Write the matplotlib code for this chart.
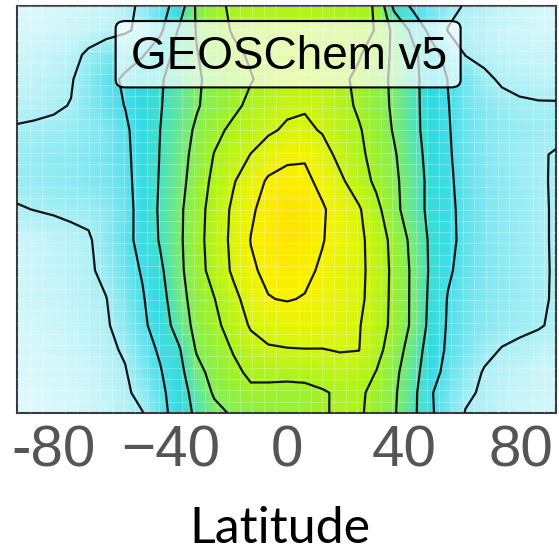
import matplotlib
matplotlib.use("Agg")
import matplotlib.pyplot as plt
from matplotlib.colors import LinearSegmentedColormap
from matplotlib.patches import FancyBboxPatch

# latitude of the grid columns (deg) and relative height of the rows (0 = bottom, 1 = top)
lat = [-92.5, -86.5, -80, -74, -68, -62, -55.5, -49.5, -43.5, -37, -31, -25, -18.5, -12.5, -6.5, 0,
       6, 12, 18, 24.5, 30.5, 36.5, 43, 49, 55, 61, 67.5, 73.5, 79.5, 86, 92]
height = [0.0, 0.05, 0.10, 0.155, 0.215, 0.28, 0.35, 0.425, 0.50, 0.57, 0.635, 0.695, 0.755, 0.82, 0.88, 0.94, 1.0]

# field values, bottom row first
field = [
    [0.35, 0.38, 0.42, 0.5, 0.58, 0.7, 0.85, 0.98, 1.68, 2.45, 3.2, 3.77, 4.1, 4.26, 4.42, 4.58, 4.74, 4.9, 5.15, 5.12, 4.7, 4.1, 3.25, 2.13, 1.5, 0.97, 0.85, 0.72, 0.62, 0.55, 0.5],
    [0.35, 0.38, 0.42, 0.5, 0.6, 0.72, 0.88, 1.22, 1.78, 2.52, 3.4, 4.1, 4.4, 4.85, 4.8, 4.7, 4.72, 4.9, 5.15, 5.15, 4.76, 4.14, 3.3, 2.08, 1.58, 1.12, 0.9, 0.78, 0.68, 0.6, 0.55],
    [0.4, 0.43, 0.48, 0.55, 0.65, 0.78, 0.95, 1.42, 1.92, 2.71, 3.7, 4.32, 4.81, 5.15, 5.2, 5.25, 5.3, 5.45, 5.6, 5.45, 4.97, 4.24, 3.4, 2.38, 1.71, 1.29, 0.95, 0.82, 0.72, 0.64, 0.58],
    [0.45, 0.5, 0.55, 0.62, 0.72, 0.85, 1.08, 1.58, 2.13, 2.91, 4.08, 4.56, 5.05, 5.6, 5.9, 5.95, 5.97, 5.97, 6.05, 6.02, 5.33, 4.48, 3.56, 2.56, 1.85, 1.5, 1.15, 0.97, 0.9, 0.8, 0.72],
    [0.5, 0.55, 0.62, 0.7, 0.8, 0.92, 1.31, 1.81, 2.46, 3.42, 4.3, 4.76, 5.41, 6.1, 6.35, 6.5, 6.55, 6.5, 6.35, 6.06, 5.48, 4.75, 3.81, 2.75, 1.9, 1.55, 1.35, 1.2, 1.1, 1.04, 0.92],
    [0.55, 0.6, 0.67, 0.75, 0.85, 0.98, 1.45, 1.92, 2.63, 3.64, 4.42, 4.97, 5.74, 6.39, 6.97, 7.05, 6.95, 6.75, 6.5, 6.2, 5.59, 4.75, 3.82, 2.81, 1.95, 1.6, 1.4, 1.25, 1.13, 1.06, 0.96],
    [0.6, 0.65, 0.72, 0.8, 0.9, 1.17, 1.61, 2.08, 2.83, 3.78, 4.61, 5.36, 6.14, 6.9, 7.15, 7.3, 7.2, 6.87, 6.54, 6.2, 5.68, 4.75, 3.83, 2.88, 2.12, 1.7, 1.45, 1.28, 1.15, 1.07, 0.96],
    [0.62, 0.68, 0.75, 0.83, 0.93, 1.29, 1.73, 2.3, 3.08, 3.83, 4.67, 5.43, 6.22, 7.02, 7.35, 7.5, 7.4, 7.05, 6.63, 6.21, 5.6, 4.68, 3.74, 2.86, 2.24, 1.75, 1.48, 1.3, 1.16, 1.06, 0.96],
    [0.96, 1.01, 1.06, 1.12, 1.15, 1.3, 1.65, 2.38, 3.12, 3.81, 4.62, 5.39, 6.16, 6.88, 7.3, 7.5, 7.45, 7.1, 6.63, 6.11, 5.28, 4.28, 3.46, 2.77, 2.2, 1.75, 1.48, 1.3, 1.16, 1.06, 0.96],
    [1.15, 1.2, 1.25, 1.3, 1.38, 1.5, 1.75, 2.38, 3.07, 3.69, 4.45, 5.23, 5.92, 6.53, 7.12, 7.3, 7.2, 6.77, 6.19, 5.48, 4.8, 4.2, 3.48, 2.76, 2.14, 1.72, 1.45, 1.28, 1.15, 1.06, 0.95],
    [1.15, 1.2, 1.25, 1.3, 1.38, 1.5, 1.8, 2.41, 3.03, 3.63, 4.3, 5.03, 5.53, 6.02, 6.5, 6.8, 6.9, 6.4, 5.74, 5.2, 4.68, 4.1, 3.38, 2.7, 2.1, 1.65, 1.4, 1.24, 1.12, 1.04, 0.97],
    [1.05, 1.08, 1.12, 1.18, 1.28, 1.45, 1.85, 2.44, 3.0, 3.56, 4.14, 4.75, 5.2, 5.53, 5.85, 6.15, 6.2, 5.92, 5.49, 5.09, 4.55, 3.93, 3.26, 2.65, 2.06, 1.65, 1.4, 1.25, 1.17, 1.12, 1.1],
    [0.85, 0.88, 0.93, 1.02, 1.36, 1.68, 2.02, 2.47, 2.95, 3.43, 3.92, 4.35, 4.8, 5.2, 5.5, 5.8, 5.9, 5.7, 5.35, 4.86, 4.39, 3.86, 3.24, 2.63, 2.03, 1.6, 1.35, 1.18, 1.08, 1.05, 1.05],
    [0.7, 0.75, 0.82, 0.95, 1.32, 1.73, 2.13, 2.52, 2.91, 3.39, 3.89, 4.25, 4.6, 4.95, 5.25, 5.45, 5.5, 5.4, 5.2, 4.81, 4.35, 3.83, 3.23, 2.61, 1.98, 1.55, 1.12, 0.92, 0.85, 0.8, 0.78],
    [0.6, 0.65, 0.72, 0.8, 1.12, 1.39, 1.67, 1.94, 2.58, 3.3, 3.96, 4.38, 4.81, 5.1, 5.25, 5.35, 5.4, 5.35, 5.25, 5.08, 4.54, 3.83, 3.23, 2.45, 1.65, 0.98, 0.85, 0.75, 0.7, 0.68, 0.66],
    [0.45, 0.5, 0.55, 0.6, 0.68, 0.78, 0.9, 1.18, 1.82, 3.11, 4.06, 4.58, 5.08, 5.2, 5.28, 5.32, 5.35, 5.3, 5.22, 5.12, 4.98, 3.75, 2.8, 1.74, 0.97, 0.85, 0.75, 0.65, 0.58, 0.52, 0.5],
    [0.35, 0.38, 0.42, 0.48, 0.55, 0.65, 0.82, 1.13, 1.6, 2.43, 4.16, 4.84, 5.1, 5.2, 5.28, 5.32, 5.33, 5.3, 5.22, 5.1, 4.97, 2.8, 1.8, 1.49, 1.19, 0.95, 0.85, 0.72, 0.6, 0.5, 0.45],
]

levels = [1, 2, 3, 4, 5, 6, 7]
tick_pos = [-80, -40, 0, 40, 80]
tick_labels = ["-80", "\u221240", "0", "40", "80"]

vmax = 7.6
stops = [(0.0, "#f2fdfe"), (0.6, "#cdf6f9"), (1.0, "#a8eff5"), (1.5, "#78e6f0"),
         (2.0, "#45dde9"), (2.6, "#2ed9e2"), (3.2, "#4fe3bb"), (3.8, "#7aec74"),
         (4.4, "#92f03e"), (5.0, "#a6f222"), (5.6, "#bff418"), (6.2, "#daf510"),
         (6.8, "#f0f404"), (7.2, "#fdf000"), (7.6, "#ffe000")]
cmap = LinearSegmentedColormap.from_list("geos", [(v / vmax, c) for v, c in stops])

fig = plt.figure(figsize=(5.59, 5.55), dpi=100)
ax = fig.add_axes([17 / 559, (555 - 413) / 555, 539 / 559, 407 / 555])

ax.pcolormesh(lat, height, field, shading="gouraud", cmap=cmap, vmin=0, vmax=vmax, zorder=1)
ax.contour(lat, height, field, levels=levels, colors="#141414", linewidths=1.6, zorder=3)

# faint tile grid
ax.set_xticks([-92 + 4 * k for k in range(47)], minor=True)
ax.set_yticks([k / 36 for k in range(37)], minor=True)
ax.grid(which="minor", color="white", alpha=0.3, linewidth=0.6, zorder=2)
ax.set_axisbelow(False)

ax.set_xlim(-92.5, 92)
ax.set_ylim(0, 1)
ax.set_xticks(tick_pos)
ax.set_xticklabels(tick_labels, fontfamily="Liberation Sans", fontsize=42, color="#555555")
ax.set_yticks([])
ax.tick_params(axis="both", which="both", length=0)
ax.tick_params(axis="x", pad=8)
for s in ax.spines.values():
    s.set_color("#3a3a3a")
    s.set_linewidth(1.5)

box = FancyBboxPatch((0.183, 0.80), 0.64, 0.163, boxstyle="round,pad=0,rounding_size=0.018",
                     transform=ax.transAxes, facecolor=(1, 1, 1, 0.68), edgecolor="black",
                     linewidth=1.5, zorder=4)
ax.add_patch(box)
ax.text(0.505, 0.845, "GEOSChem v5", transform=ax.transAxes, ha="center", va="baseline",
        fontfamily="Liberation Sans", fontsize=33, color="black", zorder=5)

fig.text(280 / 559, 1 - 543 / 555, "Latitude", ha="center", va="baseline",
         fontfamily="Lato", fontsize=36, color="black")

fig.savefig("out.png", dpi=100)
